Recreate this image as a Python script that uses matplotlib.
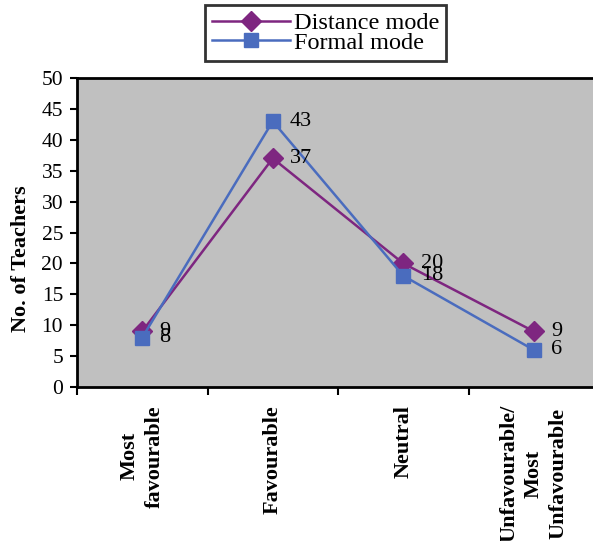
import matplotlib
matplotlib.use("Agg")
import matplotlib.pyplot as plt
import numpy as np

categories = ["Most\nfavourable", "Favourable", "Neutral", "Unfavourable/\nMost\nUnfavourable"]
distance_mode = [9, 37, 20, 9]
formal_mode = [8, 43, 18, 6]
yticks = [0, 5, 10, 15, 20, 25, 30, 35, 40, 45, 50]

plt.rcParams['font.family'] = ['Liberation Serif', 'DejaVu Serif']

W, H = 593, 541
fig = plt.figure(figsize=(W / 100, H / 100), dpi=100)
left = 77 / W
bottom = 1 - 387 / H
width = (4 * 130.5) / W
height = (387 - 78) / H
ax = fig.add_axes([left, bottom, width, height])
ax.set_facecolor('#C0C0C0')

x = np.arange(len(categories))
c_dist = '#7E2680'
c_form = '#4A6CBE'
l1, = ax.plot(x, distance_mode, color=c_dist, lw=1.8, marker='D', markersize=10,
              label='Distance mode', zorder=3)
l2, = ax.plot(x, formal_mode, color=c_form, lw=1.8, marker='s', markersize=10.5,
              label='Formal mode', zorder=3)

for xi, v in zip(x, distance_mode):
    ax.annotate(str(v), (xi, v), xytext=(12.5, 0), textcoords='offset points',
                ha='left', va='center', fontsize=16, color='black', zorder=4)
for xi, v in zip(x, formal_mode):
    ax.annotate(str(v), (xi, v), xytext=(12.5, 0), textcoords='offset points',
                ha='left', va='center', fontsize=16, color='black', zorder=4)

ax.set_xlim(-0.5, 3.5)
ax.set_ylim(0, 50)
ax.set_yticks(yticks)
ax.set_yticklabels([str(t) for t in yticks], fontsize=15.5)
ax.tick_params(axis='y', direction='out', length=5, width=1.5, pad=5)

ax.set_xticks([-0.5, 0.5, 1.5, 2.5, 3.5])
ax.set_xticklabels([])
ax.tick_params(axis='x', which='major', direction='out', length=6, width=1.5)
ax.set_xticks(x, minor=True)
ax.set_xticklabels(categories, minor=True, rotation=90, ha='center', va='top',
                   multialignment='center', fontsize=16, fontweight='bold',
                   linespacing=1.3)
ax.tick_params(axis='x', which='minor', length=0, pad=13)

for s in ['left', 'bottom', 'top']:
    ax.spines[s].set_linewidth(2)
    ax.spines[s].set_color('black')
ax.spines['right'].set_visible(False)

ax.set_ylabel('No. of Teachers', fontsize=16, fontweight='bold')
ax.yaxis.set_label_coords(-0.088, 0.414)

leg = fig.legend(handles=[l1, l2], loc='upper left',
                 bbox_to_anchor=(205 / W, 1 - 5 / H), fontsize=17.5,
                 frameon=True, fancybox=False, edgecolor='black',
                 handlelength=3.2, handletextpad=0.15, borderpad=0.3,
                 labelspacing=-0.1, borderaxespad=0)
leg.get_frame().set_linewidth(2)
for t in leg.get_texts():
    t.set_color('black')

fig.savefig('out.png', dpi=100)
